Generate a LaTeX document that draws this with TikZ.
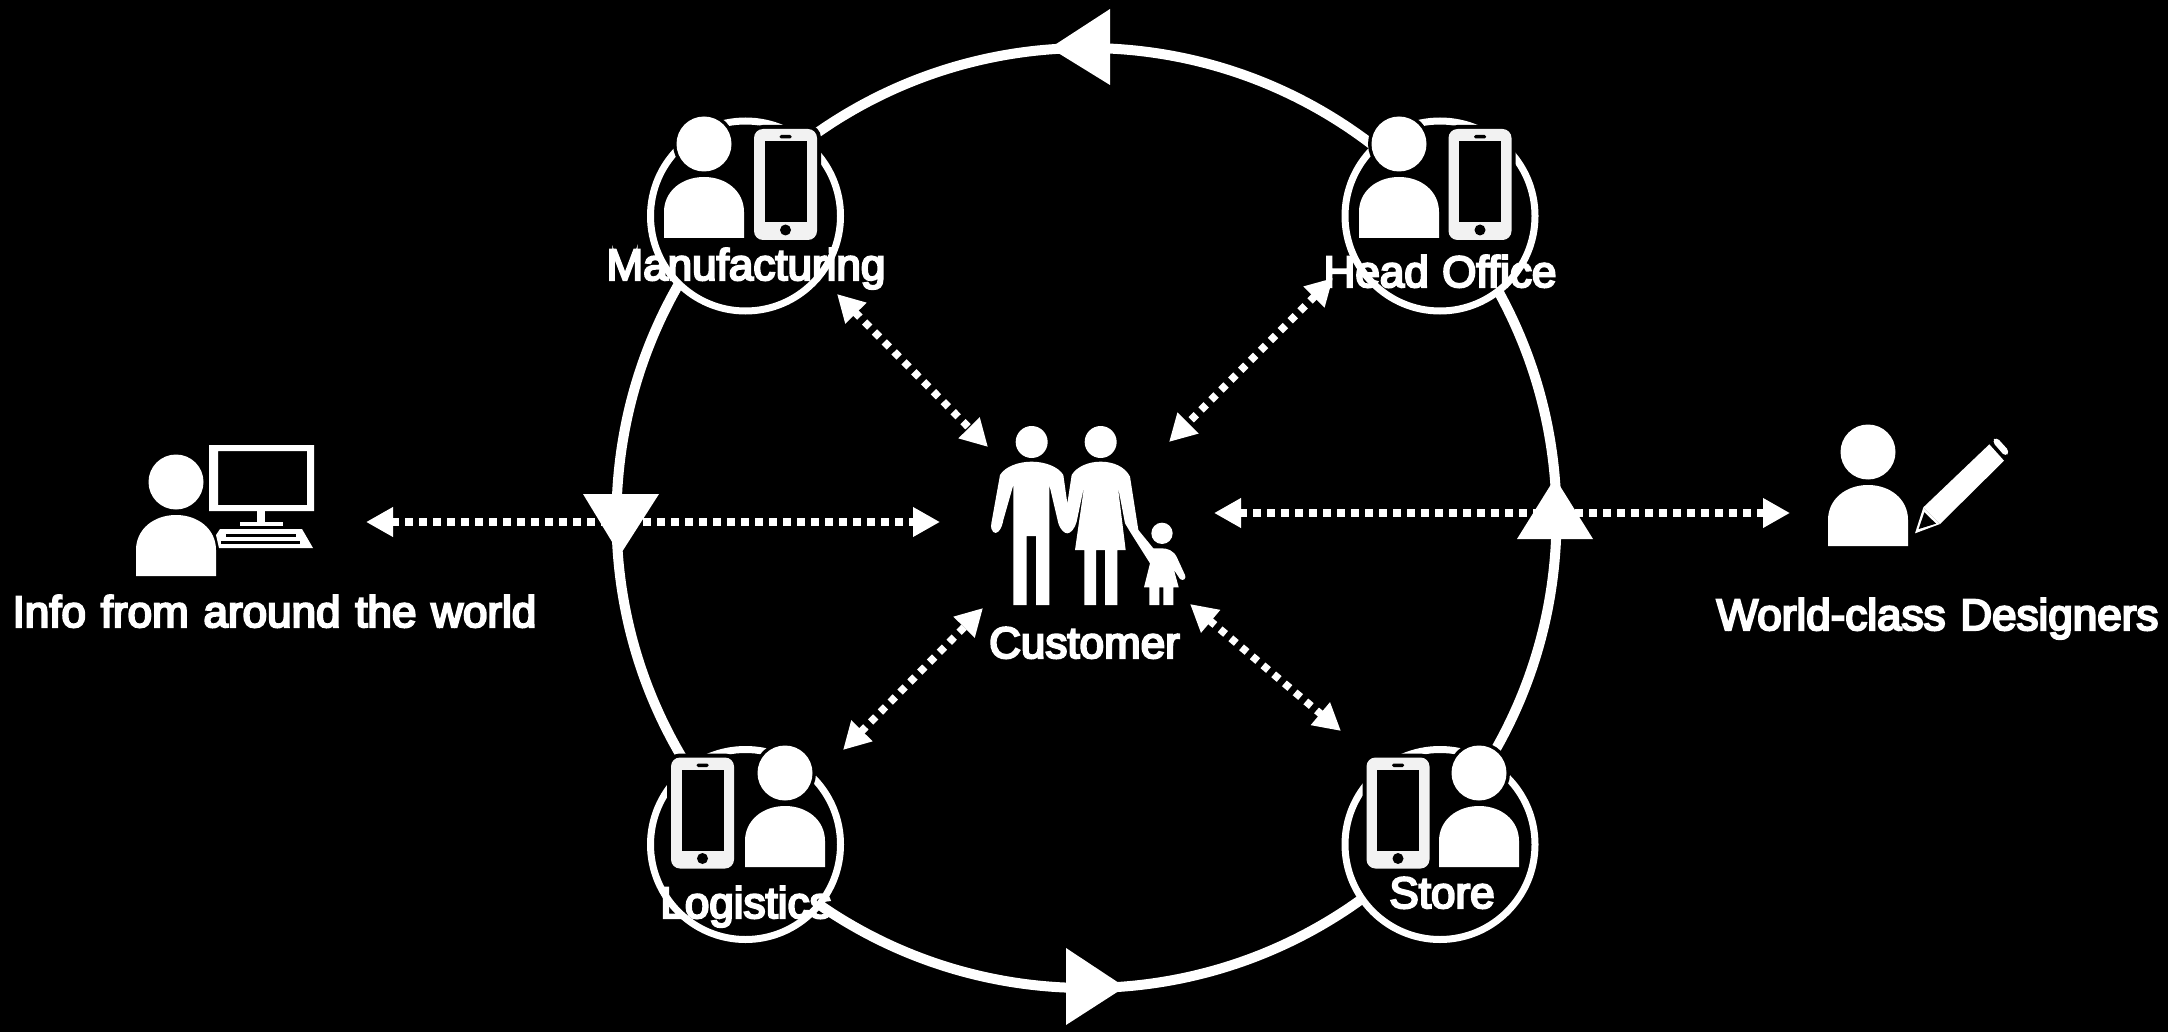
\documentclass[tikz,border=0pt]{standalone}
\usepackage{fontspec}
\newfontfamily\lab[WordSpace=0.4]{Liberation Sans}
\newfontfamily\labw[WordSpace=1.1]{Liberation Sans}
\newcommand{\heavy}[1]{\special{pdf:code q 2 Tr 2.2 w 1 1 1 RG}#1\special{pdf:code 0 Tr Q}}
\usetikzlibrary{arrows.meta}
\definecolor{phonegray}{HTML}{F2F2F2}
\tikzset{
  x=1pt,y=-1pt,
  loopring/.style={circle,draw=white,line width=10pt,minimum size=940pt,inner sep=0pt},
  hub/.style={circle,draw=white,fill=black,line width=7pt,minimum size=190pt,inner sep=0pt},
  flowhead/.style={fill=white},
  exchange/.style={draw=white,line width=7.5pt,dash pattern=on 7.2pt off 6.8pt,
    {Triangle[length=27pt,width=28pt,sep=0pt]}-{Triangle[length=27pt,width=28pt,sep=0pt]}},
  label/.style={text=white,anchor=base,inner sep=0pt,font=\lab\fontsize{44}{50}\selectfont},
  labelw/.style={text=white,anchor=base,inner sep=0pt,font=\labw\fontsize{44}{50}\selectfont},
  personicon/.pic={
    \draw[black,line width=7pt,fill=black] (0,0) circle[radius=27.5pt];
    \fill[white] (0,0) circle[radius=27.5pt];
    \fill[white] (-40,94) -- (-40,68) .. controls (-40,47) and (-22,33) .. (0,33)
      .. controls (22,33) and (40,47) .. (40,68) -- (40,94) -- cycle;
  },
  phoneicon/.pic={
    \draw[black,line width=8pt,fill=black,rounded corners=9pt] (-31.5,-55.5) rectangle (31.5,55.5);
    \fill[phonegray,rounded corners=9pt] (-31.5,-55.5) rectangle (31.5,55.5);
    \fill[black] (-21,-43.5) rectangle (21,37.5);
    \fill[black,rounded corners=1.5pt] (-6,-49.5) rectangle (6,-46);
    \fill[black] (0,45.5) circle[radius=5.5pt];
  },
}
\begin{document}
\begin{tikzpicture}
\useasboundingbox (0,0) rectangle (2168,1032);
\fill[black] (0,0) rectangle (2168,1032);

% loop and its direction heads
\node[loopring] (loop) at (1086.5,518) {};
\fill[flowhead] (1050,48) -- (1110,9) -- (1110,85) -- cycle;
\fill[flowhead] (620,555) -- (583,494) -- (659,494) -- cycle;
\fill[flowhead] (1125,987) -- (1066,948) -- (1066,1025) -- cycle;
\fill[flowhead] (1555,478) -- (1517,539) -- (1593,539) -- cycle;

% connector ends
\coordinate (infoEnd) at (366,522);
\coordinate (custL) at (940,522);
\coordinate (custR) at (1214,513);
\coordinate (desEnd) at (1790,513);
\coordinate (mfgEnd) at (837,294);
\coordinate (custMfg) at (988,447);
\coordinate (hoEnd) at (1333,278);
\coordinate (custHo) at (1169,442);
\coordinate (logEnd) at (843,750);
\coordinate (custLog) at (983,608);
\coordinate (stEnd) at (1341,731);
\coordinate (custSt) at (1190,604);

\draw[exchange] (infoEnd) -- (custL);
\draw[exchange] (custR) -- (desEnd);
\draw[exchange] (mfgEnd) -- (custMfg);
\draw[exchange] (hoEnd) -- (custHo);
\draw[exchange] (logEnd) -- (custLog);
\draw[exchange] (custSt) -- (stEnd);

% hubs
\node[hub] (mfg) at (745.5,216) {};
\node[hub] (ho) at (1440,216) {};
\node[hub] (logi) at (745.5,844.5) {};
\node[hub] (store) at (1440,844.5) {};

% hub icons
\pic at (785.5,184.5) {phoneicon};
\pic at (704,144) {personicon};
\pic at (1480,184.5) {phoneicon};
\pic at (1399,144) {personicon};
\pic at (702.5,813) {phoneicon};
\pic at (785,773) {personicon};
\pic at (1398,813) {phoneicon};
\pic at (1479,773) {personicon};

% info person + computer
\pic at (176,482) {personicon};
\fill[white,even odd rule] (209,445) rectangle (314,511) (218,451) rectangle (307,505);
\fill[white] (257,511) rectangle (265,522);
\fill[white] (240,522) rectangle (283,526);
\fill[white] (220,529) -- (302,529) -- (313,548) -- (219,548) -- (216,535) -- cycle;
\fill[black] (226,534) rectangle (296,537);
\fill[black] (221,541) rectangle (300,544);

% designer person + pencil
\pic at (1868,452) {personicon};
\begin{scope}[shift={(1800,400)},scale=1/3]
  \fill[white] (370,322) -- (568,133) -- (612,182) -- (420,372) -- cycle;
  \fill[white,rounded corners=4pt] (576,124) -- (589,111) -- (629,155) -- (616,170) -- cycle;
  \fill[white] (370,322) -- (345,400) -- (420,372) -- cycle;
  \fill[black] (373,337) -- (356,387) -- (408,371) -- cycle;
\end{scope}

% family
\begin{scope}[shift={(950,400)},scale=1/3]
  \fill[white] (245,126) circle[radius=48pt];
  \fill[white] (452,126) circle[radius=48pt];
  \fill[white] (636,400) circle[radius=32pt];
  \fill[white] (245,185) .. controls (205,185) and (165,200) .. (150,225)
    -- (124,370) .. controls (120,395) and (135,405) .. (145,395)
    .. controls (155,385) and (158,370) .. (160,360) -- (190,255) -- (190,615) -- (230,615)
    -- (230,408) -- (258,408) -- (258,615) -- (298,615) -- (298,255) -- (325,370)
    .. controls (332,392) and (345,400) .. (352,400) .. controls (362,400) and (375,385) .. (380,365)
    -- (403,255) -- (375,450) -- (403,450) -- (403,615) -- (438,615) -- (438,450) -- (465,450)
    -- (465,615) -- (502,615) -- (502,450) -- (527,450) -- (503,255) -- (525,370) -- (540,395)
    -- (600,490) -- (582,562) -- (598,562) -- (598,615) -- (628,615) -- (628,562) -- (640,562)
    -- (640,615) -- (670,615) -- (670,562) -- (686,562) -- (672,510) -- (690,537)
    .. controls (700,545) and (710,535) .. (705,525) -- (682,475)
    .. controls (672,450) and (650,445) .. (635,445) -- (610,445) -- (565,390) -- (540,230)
    .. controls (525,200) and (490,185) .. (452,185) .. controls (415,185) and (380,200) .. (365,225)
    -- (352,310) -- (340,225) .. controls (325,200) and (285,185) .. (245,185) -- cycle;
\end{scope}

% labels
\node[label] (mfgT) at (746,280) {\heavy{Manufacturing}};
\node[label] (hoT) at (1440,287) {\heavy{Head Office}};
\node[label] (logT) at (746,918) {\heavy{Logistics}};
\node[label] (stT) at (1442,908) {\heavy{Store}};
\node[label] (custT) at (1084.5,658) {\heavy{Customer}};
\node[labelw] (infoT) at (274.5,627) {\heavy{Info from around the world}};
\node[labelw] (desT) at (1937.5,630) {\heavy{World-class Designers}};
\end{tikzpicture}
\end{document}
